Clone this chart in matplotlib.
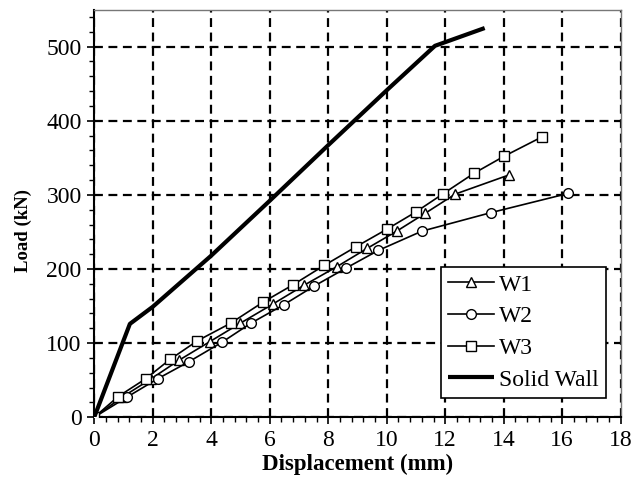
import matplotlib
matplotlib.use("Agg")
import matplotlib.pyplot as plt
from matplotlib.ticker import MultipleLocator

# Data
w1_x = [0, 0.95, 1.95, 2.9, 3.95, 5.0, 6.12, 7.17, 8.29, 9.34, 10.34, 11.31, 12.34, 14.19]
w1_y = [0, 27, 52, 77, 102, 127, 153, 178, 203, 228, 251, 275, 301, 327]

w2_x = [0, 1.11, 2.17, 3.24, 4.36, 5.36, 6.49, 7.52, 8.6, 9.71, 11.2, 13.56, 16.21]
w2_y = [0, 27, 52, 75, 101, 127, 152, 177, 201, 225, 251, 276, 302]

w3_x = [0, 0.82, 1.76, 2.59, 3.52, 4.67, 5.76, 6.81, 7.87, 8.95, 10.02, 11.0, 11.91, 12.98, 14.01, 15.3]
w3_y = [0, 28, 52, 78, 103, 127, 155, 179, 205, 230, 254, 277, 301, 329, 352, 378]

solid_x = [0, 1.22, 2.0, 4.0, 6.0, 8.0, 10.0, 11.65, 13.35]
solid_y = [0, 126, 149, 218, 292, 367, 441, 501, 525]

x_ticks = [0, 2, 4, 6, 8, 10, 12, 14, 16, 18]
y_ticks = [0, 100, 200, 300, 400, 500]

plt.rcParams['font.family'] = ['Liberation Serif', 'DejaVu Serif']

fig = plt.figure(figsize=(6.34, 4.91), dpi=100)
ax = fig.add_axes([94.2 / 634, 1 - 417.3 / 491, (620.7 - 94.2) / 634, (417.3 - 9.5) / 491])

mk = dict(color='black', lw=1.2, markerfacecolor='white', markeredgecolor='black',
          markeredgewidth=1.0, zorder=3)
ax.plot(w1_x, w1_y, marker='^', markersize=7.5, label='W1', **mk)
ax.plot(w2_x, w2_y, marker='o', markersize=7, label='W2', **mk)
ax.plot(w3_x, w3_y, marker='s', markersize=7, label='W3', **mk)
ax.plot(solid_x, solid_y, color='black', lw=3.0, label='Solid Wall', zorder=4,
        solid_capstyle='butt')

ax.set_xlim(0, 18)
ax.set_ylim(0, 550)
ax.set_xticks(x_ticks)
ax.set_yticks(y_ticks)
ax.xaxis.set_minor_locator(MultipleLocator(0.4))
ax.yaxis.set_minor_locator(MultipleLocator(20))

ax.grid(True, which='major', color='black', lw=1.6, linestyle=(0, (4, 2.5)), zorder=1)
ax.set_axisbelow(True)

ax.tick_params(which='major', direction='out', length=5, width=1.2, labelsize=17,
               colors='black', pad=4)
ax.tick_params(which='minor', direction='out', length=3.5, width=1.0)

for s in ['left', 'bottom']:
    ax.spines[s].set_color('black')
    ax.spines[s].set_linewidth(1.5)
for s in ['top', 'right']:
    ax.spines[s].set_color('#777777')
    ax.spines[s].set_linewidth(1.0)

ax.set_xlabel('Displacement (mm)', fontsize=16.5, fontweight='bold', labelpad=2)
ax.set_ylabel('Load (kN)', fontsize=13.5, fontweight='bold')
ax.yaxis.set_label_coords(-0.118, 0.459)

leg = ax.legend(loc='lower right', bbox_to_anchor=(606 / 634, 1 - 397.7 / 491),
                bbox_transform=fig.transFigure, fontsize=17, frameon=True,
                fancybox=False, framealpha=1, edgecolor='black', numpoints=1,
                handlelength=1.95, handletextpad=0.2, labelspacing=0.43,
                borderpad=0.3, borderaxespad=0)
leg.get_frame().set_linewidth(1.2)
leg.set_zorder(5)

fig.savefig('out.png', dpi=100)
